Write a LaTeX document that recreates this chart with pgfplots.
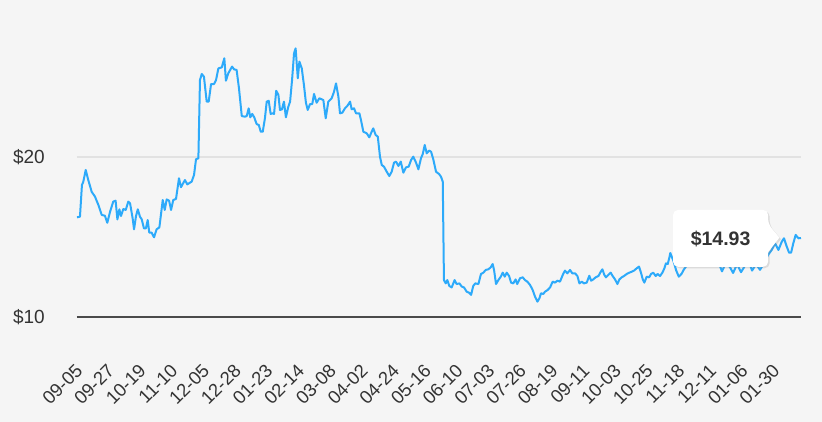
\documentclass[border=0pt]{standalone}
\usepackage{pgfplots}
\pgfplotsset{compat=1.18}
\usepackage{fontspec}
\setmainfont{Liberation Sans}
\usetikzlibrary{shadows}
\definecolor{bg}{HTML}{F5F5F5}
\definecolor{linec}{HTML}{2DAAFA}
\definecolor{txt}{HTML}{333333}
\definecolor{gridc}{HTML}{E2E2E2}
\definecolor{axc}{HTML}{4A4A4A}
\begin{document}
\begin{tikzpicture}
\fill[bg] (-77pt,-105pt) rectangle (745pt,317pt);
\begin{axis}[
  at={(0,0)}, anchor=south west,
  scale only axis, width=724pt, height=317pt,
  xmin=0, xmax=365.6, ymin=10, ymax=29.8125,
  axis x line=bottom, axis y line=left,
  every outer x axis line/.append style={-},
  every outer y axis line/.append style={-},
  x axis line style={-, draw=axc, line width=2pt},
  y axis line style={draw=none},
  tick style={draw=none}, major tick length=0pt,
  ytick={10,20}, yticklabels={\$10,\$20},
  ymajorgrids, grid style={draw=gridc, line width=1.5pt},
  yticklabel style={font=\fontsize{19}{21}\selectfont, text=txt, anchor=east, inner sep=0pt, xshift=-32pt},
  xtick={0,16,...,352},
  xticklabels={09-05,09-27,10-19,11-10,12-05,12-28,01-23,02-14,03-08,04-02,04-24,05-16,06-10,07-03,07-26,08-19,09-11,10-03,10-25,11-18,12-11,01-06,01-30},
  xticklabel style={font=\fontsize{18.5}{20}\selectfont, text=txt, inner sep=0pt, yshift=-46pt, xshift=-2.5pt, rotate=45, anchor=north east},
]
\addplot[color=linec, line width=2pt, line join=round] coordinates {
(0,16.23)(1.5,16.27)(2.5,18.25)(3.2,18.46)(4.4,19.19)(5.7,18.56)(7.4,17.83)(9.1,17.52)(10.8,17.0)(12.5,16.38)
(14.1,16.33)(15.3,15.89)(16.7,16.58)(18.3,17.21)(19.5,17.27)(20.4,16.1)(21.4,16.73)(22.2,16.31)(23.4,16.75)(24.6,16.69)
(25.9,17.21)(26.8,17.1)(28.1,16.17)(28.8,15.48)(29.8,16.31)(30.7,16.73)(31.8,16.27)(32.7,16.1)(33.8,15.54)(34.8,15.54)
(35.7,16.06)(36.5,15.27)(37.7,15.27)(38.9,14.98)(40.2,15.48)(41.6,15.6)(43.3,17.31)(44.3,16.69)(45.3,17.35)(46.5,17.27)
(47.5,16.69)(48.6,17.31)(50.0,17.38)(51.5,18.67)(52.5,18.11)(54.5,18.56)(55.7,18.29)(57.9,18.46)(59.1,18.88)(60.1,19.86)
(61.3,19.92)(62.1,24.81)(63.0,25.19)(64.1,25.02)(65.5,23.46)(66.5,23.46)(67.7,24.56)(69.2,24.56)(70.2,24.81)(71.4,25.54)
(73.1,25.6)(74.4,26.17)(75.2,24.77)(76.4,25.23)(78.3,25.65)(79.3,25.48)(80.6,25.44)(81.8,24.29)(83.2,22.56)(84.8,22.52)
(85.7,22.56)(86.7,23.04)(87.5,22.48)(88.5,22.69)(89.5,22.48)(90.7,22.06)(91.8,22.0)(92.8,21.58)(93.8,21.58)(94.9,22.42)
(95.8,23.46)(96.8,23.52)(97.8,22.69)(98.8,22.73)(99.5,22.69)(100.6,24.14)(101.7,23.88)(102.5,22.94)(103.5,22.98)(104.5,23.46)
(105.5,22.48)(106.7,23.14)(107.6,23.46)(108.6,24.81)(109.6,26.48)(110.4,26.79)(111.5,24.92)(112.3,25.96)(113.5,25.54)(114.6,24.5)
(115.6,23.39)(116.5,22.94)(117.7,23.31)(118.8,23.31)(119.7,23.94)(121.0,23.39)(122.4,23.67)(124.4,23.56)(125.6,22.42)(126.9,23.46)
(128.6,23.67)(129.8,24.08)(130.8,24.6)(132.0,23.77)(132.8,22.73)(134.0,22.77)(135.3,23.04)(136.5,23.19)(137.9,23.46)(138.7,22.98)
(139.9,23.04)(140.9,22.73)(142.6,22.73)(143.4,22.31)(144.6,21.58)(146.3,21.48)(147.6,21.23)(148.8,21.58)(149.6,21.79)(150.8,21.38)
(151.9,21.27)(153.0,20.02)(153.9,19.5)(155.0,19.4)(156.4,19.08)(157.7,18.81)(158.9,19.08)(160.1,19.65)(161.1,19.71)(162.3,19.44)
(163.5,19.71)(164.8,19.02)(166.1,19.35)(167.5,19.4)(168.7,19.81)(169.8,20.02)(171.2,19.65)(172.4,19.23)(173.7,19.92)(174.6,20.19)
(175.6,20.75)(176.6,20.23)(177.8,20.4)(178.8,20.33)(179.9,19.86)(181.3,19.08)(182.8,18.94)(183.8,18.77)(184.7,18.46)(185.3,12.31)
(186.2,12.1)(187.0,12.31)(188.0,11.94)(189.2,11.85)(190.7,12.31)(191.7,12.06)(193.1,12.1)(194.3,11.9)(195.4,11.85)(196.8,11.58)
(198.0,11.52)(199.0,11.38)(200.1,11.94)(201.1,12.1)(202.7,12.06)(204.0,12.69)(205.2,12.77)(206.4,12.94)(207.7,12.98)(208.9,13.1)
(209.9,13.31)(210.6,12.94)(211.6,12.06)(212.8,12.31)(214.0,12.52)(215.0,12.77)(216.0,12.52)(217.0,12.77)(218.2,12.56)(219.2,12.15)
(220.3,12.1)(221.5,12.35)(222.3,12.06)(223.7,12.42)(225.1,12.48)(226.2,12.31)(227.4,12.21)(228.8,12.0)(230.1,11.69)(231.3,11.27)
(232.5,10.96)(233.5,11.17)(234.3,11.48)(235.5,11.44)(236.3,11.58)(237.7,11.69)(238.9,11.85)(240.2,12.21)(241.4,12.15)(242.6,12.27)
(243.9,12.21)(245.3,12.63)(246.4,12.9)(247.6,12.73)(249.0,12.94)(250.1,12.73)(251.5,12.73)(252.7,12.56)(253.7,12.1)(254.9,12.21)
(256.0,12.1)(257.4,12.15)(258.7,12.58)(259.6,12.27)(260.7,12.35)(261.9,12.48)(263.3,12.56)(264.5,12.83)(265.3,12.98)(266.3,12.63)
(267.1,12.48)(268.3,12.63)(269.5,12.77)(270.5,12.56)(271.7,12.35)(272.9,12.06)(273.9,12.35)(275.1,12.48)(276.2,12.56)(277.6,12.69)
(278.9,12.77)(280.1,12.83)(281.3,12.9)(282.6,13.04)(283.8,13.15)(284.8,12.77)(285.7,12.35)(286.5,12.15)(287.7,12.52)(288.9,12.48)
(289.9,12.69)(291.0,12.77)(292.2,12.56)(293.2,12.69)(294.4,12.56)(295.6,12.77)(296.6,13.04)(297.4,13.35)(298.3,13.31)(299.1,13.7)
(299.6,14.0)(301.3,13.46)(302.6,12.9)(303.9,12.52)(305.3,12.7)(306.3,12.94)(308.1,13.25)(309.6,13.5)(311.6,13.8)(313.6,13.6)
(315.6,13.9)(317.6,14.1)(319.6,13.7)(321.7,13.9)(323.7,13.5)(325.7,12.85)(327.7,13.4)(329.8,13.1)(331.3,12.75)(333.3,13.3)
(335.3,12.8)(337.3,13.2)(339.3,13.45)(340.9,12.9)(342.9,13.3)(344.9,12.95)(346.9,13.35)(349.0,13.88)(350.8,14.19)(352.5,14.6)
(354.2,14.19)(355.9,14.71)(357.0,14.92)(358.4,14.4)(359.6,14.02)(360.6,14.02)(361.7,14.6)(362.9,15.13)(364.3,14.92)(365.6,14.93)
};
\path[fill=white, drop shadow={shadow xshift=1.5pt, shadow yshift=-1.5pt, opacity=0.22}, rounded corners=5pt]
  (axis cs:301,16.69) -- (axis cs:349,16.69) -- (axis cs:349,15.81) [sharp corners]-- (axis cs:354.7,14.96) -- (axis cs:349,14.06) [rounded corners=5pt]-- (axis cs:349,13.14) -- (axis cs:301,13.14) -- cycle;
\node[text=txt, font=\fontsize{19.5}{21}\selectfont\bfseries] at (axis cs:325,14.88) {\$14.93};
\end{axis}
\pgfresetboundingbox
\path[use as bounding box] (-77pt,-105pt) rectangle (745pt,317pt);
\end{tikzpicture}
\end{document}
